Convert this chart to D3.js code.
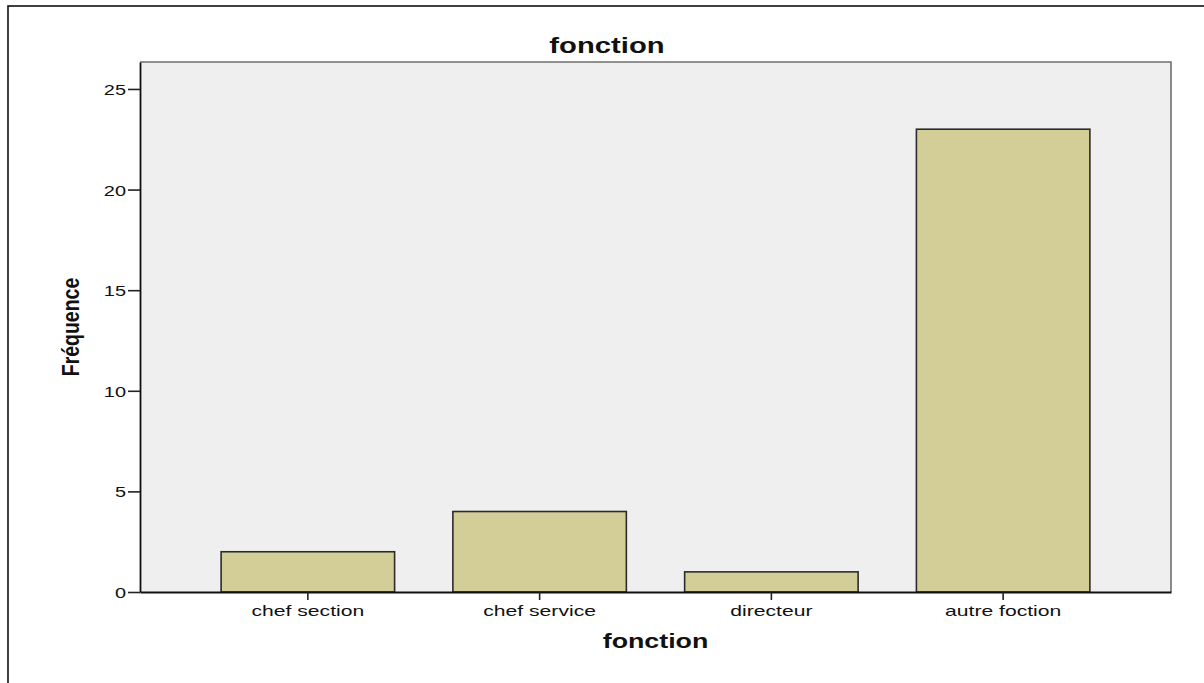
<!DOCTYPE html>
<html>
<head>
<meta charset="utf-8">
<script src="https://cdn.jsdelivr.net/npm/d3@7"></script>
<style>
  html, body { margin: 0; padding: 0; background: #fff; }
  svg { display: block; }
  text { font-family: "Liberation Sans", Arial, sans-serif; fill: #111; }
</style>
</head>
<body>
<svg id="chart" width="1204" height="683"></svg>
<script>
// Frequencies by job function
const categories = ["chef section", "chef service", "directeur", "autre foction"];
const frequencies = [2, 4, 1, 23];
const yTicks = [0, 5, 10, 15, 20, 25];
const chartTitle = "fonction";
const xTitle = "fonction";
const yTitle = "Fréquence";

const W = 1204, H = 683;
const plot = { left: 140, right: 1171, top: 62, bottom: 592 };
const stretch = 1.4;   // glyphs are drawn wide

const svg = d3.select("#chart");

// outer frame (runs off the right and bottom edges)
svg.append("rect")
  .attr("x", 8).attr("y", 6)
  .attr("width", W + 20).attr("height", H + 20)
  .attr("fill", "#fff").attr("stroke", "#111").attr("stroke-width", 1.6);

const x = d3.scaleBand()
  .domain(categories)
  .range([plot.left, plot.right])
  .paddingInner(0.2515)
  .paddingOuter(0.35);

const y = d3.scaleLinear()
  .domain([0, 26.34])
  .range([plot.bottom, plot.top]);

// plot background
svg.append("rect")
  .attr("x", plot.left).attr("y", plot.top)
  .attr("width", plot.right - plot.left)
  .attr("height", plot.bottom - plot.top)
  .attr("fill", "#efefef");

// top and right frame of the plot
svg.append("path")
  .attr("d", `M${plot.left},${plot.top}H${plot.right}V${plot.bottom}`)
  .attr("fill", "none").attr("stroke", "#6f6f6f").attr("stroke-width", 1.6);

// bars
svg.append("g").selectAll("rect")
  .data(categories)
  .join("rect")
  .attr("x", d => x(d))
  .attr("y", (d, i) => y(frequencies[i]))
  .attr("width", x.bandwidth())
  .attr("height", (d, i) => y(0) - y(frequencies[i]))
  .attr("fill", "#d3ce97")
  .attr("stroke", "#2b2b2b")
  .attr("stroke-width", 1.6);

// y axis
const yAxis = svg.append("g")
  .attr("transform", `translate(${plot.left},0)`)
  .call(d3.axisLeft(y).tickValues(yTicks).tickSize(12).tickSizeOuter(0)
    .tickPadding(0).tickFormat(d3.format("d")));
yAxis.select(".domain").attr("stroke", "#111").attr("stroke-width", 1.8);
yAxis.selectAll(".tick line").attr("stroke", "#222").attr("stroke-width", 1.6);
yAxis.selectAll(".tick text")
  .attr("x", null).attr("dy", null)
  .attr("text-anchor", "end")
  .attr("font-size", 15)
  .attr("transform", `translate(-14,5.5) scale(${stretch * 0.95},1)`)
  .style("fill", "#111");

// x axis
const xAxis = svg.append("g")
  .attr("transform", `translate(0,${plot.bottom})`)
  .call(d3.axisBottom(x).tickSize(8).tickSizeOuter(0).tickPadding(0));
xAxis.select(".domain").attr("stroke", "#111").attr("stroke-width", 1.8);
xAxis.selectAll(".tick line").attr("stroke", "#222").attr("stroke-width", 1.6);
xAxis.selectAll(".tick text")
  .attr("y", null).attr("dy", null)
  .attr("text-anchor", "middle")
  .attr("font-size", 14.5)
  .attr("transform", `translate(0,24) scale(${stretch * 1.04},1)`)
  .style("fill", "#111");

// chart title
svg.append("text")
  .attr("text-anchor", "middle")
  .attr("font-size", 22).attr("font-weight", "bold")
  .attr("transform", `translate(607,53) scale(1.33,1)`)
  .text(chartTitle);

// x axis title
svg.append("text")
  .attr("text-anchor", "middle")
  .attr("font-size", 20).attr("font-weight", "bold")
  .attr("transform", `translate(${(plot.left + plot.right) / 2},648) scale(1.34,1)`)
  .text(xTitle);

// y axis title (rotated, glyphs slightly tall)
svg.append("text")
  .attr("text-anchor", "middle")
  .attr("font-size", 19.5).attr("font-weight", "bold")
  .attr("transform", `translate(79,327) rotate(-90) scale(1,1.2)`)
  .text(yTitle);
</script>
</body>
</html>
